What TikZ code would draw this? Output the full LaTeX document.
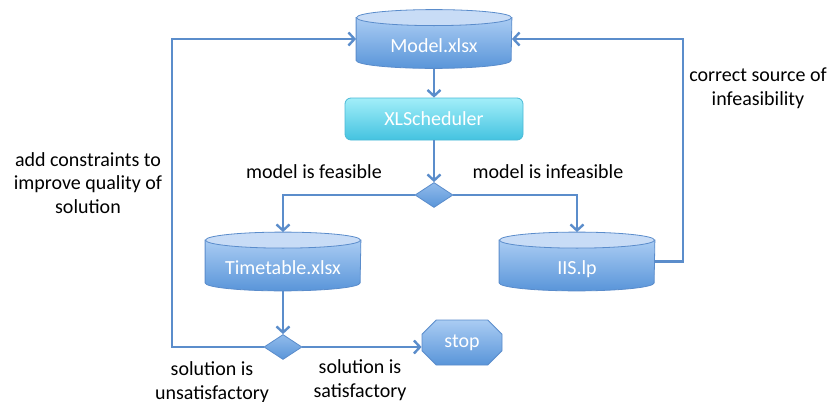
\documentclass[tikz,border=0pt]{standalone}
\usepackage{fontspec}
\setmainfont{Carlito}
\usetikzlibrary{arrows.meta, shapes.geometric, shapes.misc, backgrounds, calc, positioning}
\definecolor{flowline}{HTML}{5B8DCB}
\definecolor{drumtop}{HTML}{AACCF3}
\definecolor{drumbot}{HTML}{5995D9}
\definecolor{drumcap}{HTML}{C8DCF6}
\definecolor{drumedge}{HTML}{5A8CCB}
\definecolor{schedtop}{HTML}{A2EEF9}
\definecolor{schedbot}{HTML}{44C3E0}
\definecolor{schededge}{HTML}{4AB9D6}
\tikzset{> = {Straight Barb[length=3pt, width=6.5pt]}}
\tikzset{
	flow/.style = {draw = flowline, line width = 1.2pt},
	drum/.style = {rectangle, minimum width = 77.5pt, minimum height = 29pt, inner sep = 0pt, text = white, text height = 13pt, text depth = 0pt},
	sched/.style = {rectangle, rounded corners = 3pt, minimum width = 89pt, minimum height = 21pt, top color = schedtop, bottom color = schedbot, draw = schededge, text = white},
	gate/.style = {diamond, minimum width = 19pt, minimum height = 12.5pt, inner sep = 0pt, top color = drumtop!70!drumbot, bottom color = drumbot, draw = drumedge},
	halt/.style = {chamfered rectangle, chamfered rectangle xsep = 8pt, minimum width = 40pt, minimum height = 22.5pt, inner sep = 0pt, top color = drumtop, bottom color = drumbot, draw = drumedge, text = white},
	note/.style = {align = center, text = black}
}
\newcommand\drumbody[1]{%
	\shadedraw [top color = drumtop, bottom color = drumbot, draw = drumedge, line width = 0.4pt]
		($(#1.north west)+(0,-8)$) -- ($(#1.south west)+(0,8)$)
		arc [start angle = 180, end angle = 360, x radius = 77.5, y radius = 8]
		-- ($(#1.north east)+(0,-8)$) -- cycle;
	\filldraw [fill = drumcap, draw = drumedge, line width = 0.4pt] ($(#1.north)+(0,-8)$) ellipse [x radius = 77.5, y radius = 8];
}

\begin{document}
\begin{tikzpicture}[x = 0.5pt, y = 0.5pt, font = \fontsize{10}{11.8}\selectfont]
		\useasboundingbox (0,0) rectangle (832,-402);
		\node [drum] (model) at (434,-39) {Model.xlsx};
		\node [sched] (xls) at (434,-119) {XLScheduler};
		\node [gate] (feas) at (434,-195) {};
		\node [drum] (table) at (283,-261.5) {Timetable.xlsx};
		\node [drum] (iis) at (577,-261.5) {IIS.lp};
		\node [gate] (good) at (283,-347) {};
		\node [halt] (stop) at (462,-342.5) {stop};
		\coordinate (lft) at (172,0);
		\coordinate (rgt) at (683,0);

		\begin{scope}[on background layer]
			\drumbody{model}
			\drumbody{table}
			\drumbody{iis}
		\end{scope}

		\draw [flow, ->] (model) -- (xls);
		\draw [flow, ->] (xls) -- (feas);
		\draw [flow, ->] (feas.west) -| (table.north);
		\draw [flow, ->] (feas.east) -| (iis.north);
		\draw [flow, ->] (table) -- (good);
		\draw [flow, ->] (good.east) -- (good.east -| stop.west);
		\draw [flow, ->] (good.west) -- (good.west -| lft) |- (model.west);
		\draw [flow, ->] (iis.east) -- (iis.east -| rgt) |- (model.east);

		\node [note] (feaslbl) at (314,-172) {model is feasible};
		\node [note] (infeaslbl) at (548,-172) {model is infeasible};
		\node [note] (addlbl) at (88,-183) {add constraints to\\improve quality of\\solution};
		\node [note] (fixlbl) at (758,-88) {correct source of\\infeasibility};
		\node [note] (badlbl) at (212,-382) {solution is\\unsatisfactory};
		\node [note] (oklbl) at (360,-380) {solution is\\satisfactory};
	\end{tikzpicture}
\end{document}
